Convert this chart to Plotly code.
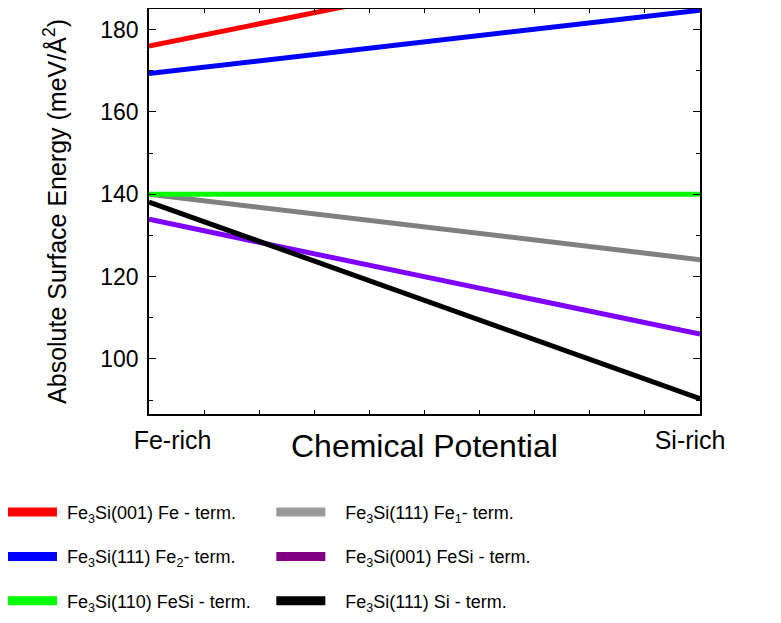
import plotly.graph_objects as go

# ---- data ----
x_positions = [0, 1]  # 0 = Fe-rich, 1 = Si-rich
names = [
    "Fe<sub>3</sub>Si(001) Fe - term.",
    "Fe<sub>3</sub>Si(111) Fe<sub>2</sub>- term.",
    "Fe<sub>3</sub>Si(110) FeSi - term.",
    "Fe<sub>3</sub>Si(111) Fe<sub>1</sub>- term.",
    "Fe<sub>3</sub>Si(001) FeSi - term.",
    "Fe<sub>3</sub>Si(111) Si - term.",
]
red_vals = [176.0, 203.0]
blue_vals = [169.3, 184.7]
green_vals = [140.0, 140.0]
gray_vals = [140.0, 124.1]
purple_vals = [133.9, 106.0]
black_vals = [138.1, 90.3]
series = [red_vals, blue_vals, green_vals, gray_vals, purple_vals, black_vals]
line_colors = ["#FF0000", "#0000FF", "#00FF00", "#808080", "#7F00FF", "#000000"]
legend_colors = ["#FF0000", "#0000FF", "#00FF00", "#999999", "#800080", "#000000"]
tick_labels = ["Fe-rich", "Si-rich"]
y_ticks = [100, 120, 140, 160, 180]

FONT = "Liberation Sans, Arial, sans-serif"
NBSP = "\u00a0"

fig = go.Figure()

# plotted lines (draw order: gray under green, black on top)
draw_order = [0, 1, 3, 2, 4, 5]
for i in draw_order:
    fig.add_trace(go.Scatter(
        x=x_positions, y=series[i], mode="lines",
        line=dict(color=line_colors[i], width=5),
        showlegend=False, hoverinfo="skip",
    ))

# legend-only entries: left column (legend), right column (legend2)
for k, i in enumerate([0, 1, 2]):
    fig.add_trace(go.Scatter(
        x=[None], y=[None], mode="lines", name=NBSP + names[i],
        line=dict(color=legend_colors[i], width=9),
        legend="legend", legendgroup="a%d" % k,
    ))
for k, i in enumerate([3, 4, 5]):
    fig.add_trace(go.Scatter(
        x=[None], y=[None], mode="lines", name=NBSP + NBSP + NBSP + names[i],
        line=dict(color=legend_colors[i], width=9),
        legend="legend2", legendgroup="b%d" % k,
    ))

legend_common = dict(
    orientation="v", xanchor="left", yanchor="top",
    font=dict(family=FONT, size=18, color="#000000"),
    itemwidth=49, tracegroupgap=18, bgcolor="rgba(0,0,0,0)",
    traceorder="grouped",
)

fig.update_layout(
    width=773, height=615,
    margin=dict(l=141, r=81, t=1, b=209, autoexpand=False),
    paper_bgcolor="white", plot_bgcolor="white",
    font=dict(family=FONT, color="#000000"),
    legend=dict(x=-0.265, y=-0.197, **legend_common),
    legend2=dict(x=0.222, y=-0.197, **legend_common),
    xaxis=dict(
        range=[0, 1], showgrid=False, zeroline=False,
        showline=True, linecolor="#000000", linewidth=1.5, mirror="ticks",
        tickvals=[0.0427, 0.982], ticktext=tick_labels,
        ticks="inside", ticklen=0, ticklabelstandoff=3,
        tickfont=dict(family=FONT, size=25, color="#000000"),
        minor=dict(dtick=0.1, tick0=0, ticks="inside", ticklen=4,
                   tickcolor="#000000", tickwidth=1, showgrid=False),
    ),
    yaxis=dict(
        range=[86.6, 185.0], showgrid=False, zeroline=False,
        showline=True, linecolor="#000000", linewidth=1.5, mirror="ticks",
        tickvals=y_ticks, ticks="inside", ticklen=7, tickwidth=1.2,
        tickcolor="#000000", ticklabelstandoff=4,
        tickfont=dict(family=FONT, size=23, color="#000000"),
        minor=dict(dtick=10, tick0=0, ticks="inside", ticklen=4,
                   tickcolor="#000000", tickwidth=1, showgrid=False),
        title=dict(text="Absolute Surface Energy (meV/Å<sup>2</sup>)",
                   font=dict(family=FONT, size=25, color="#000000"),
                   standoff=27),
    ),
    annotations=[dict(
        text="Chemical Potential", xref="paper", yref="paper",
        x=0.5, y=-0.03, xanchor="center", yanchor="top", showarrow=False,
        font=dict(family=FONT, size=32, color="#000000"),
    )],
)

fig.write_html("out.html")
